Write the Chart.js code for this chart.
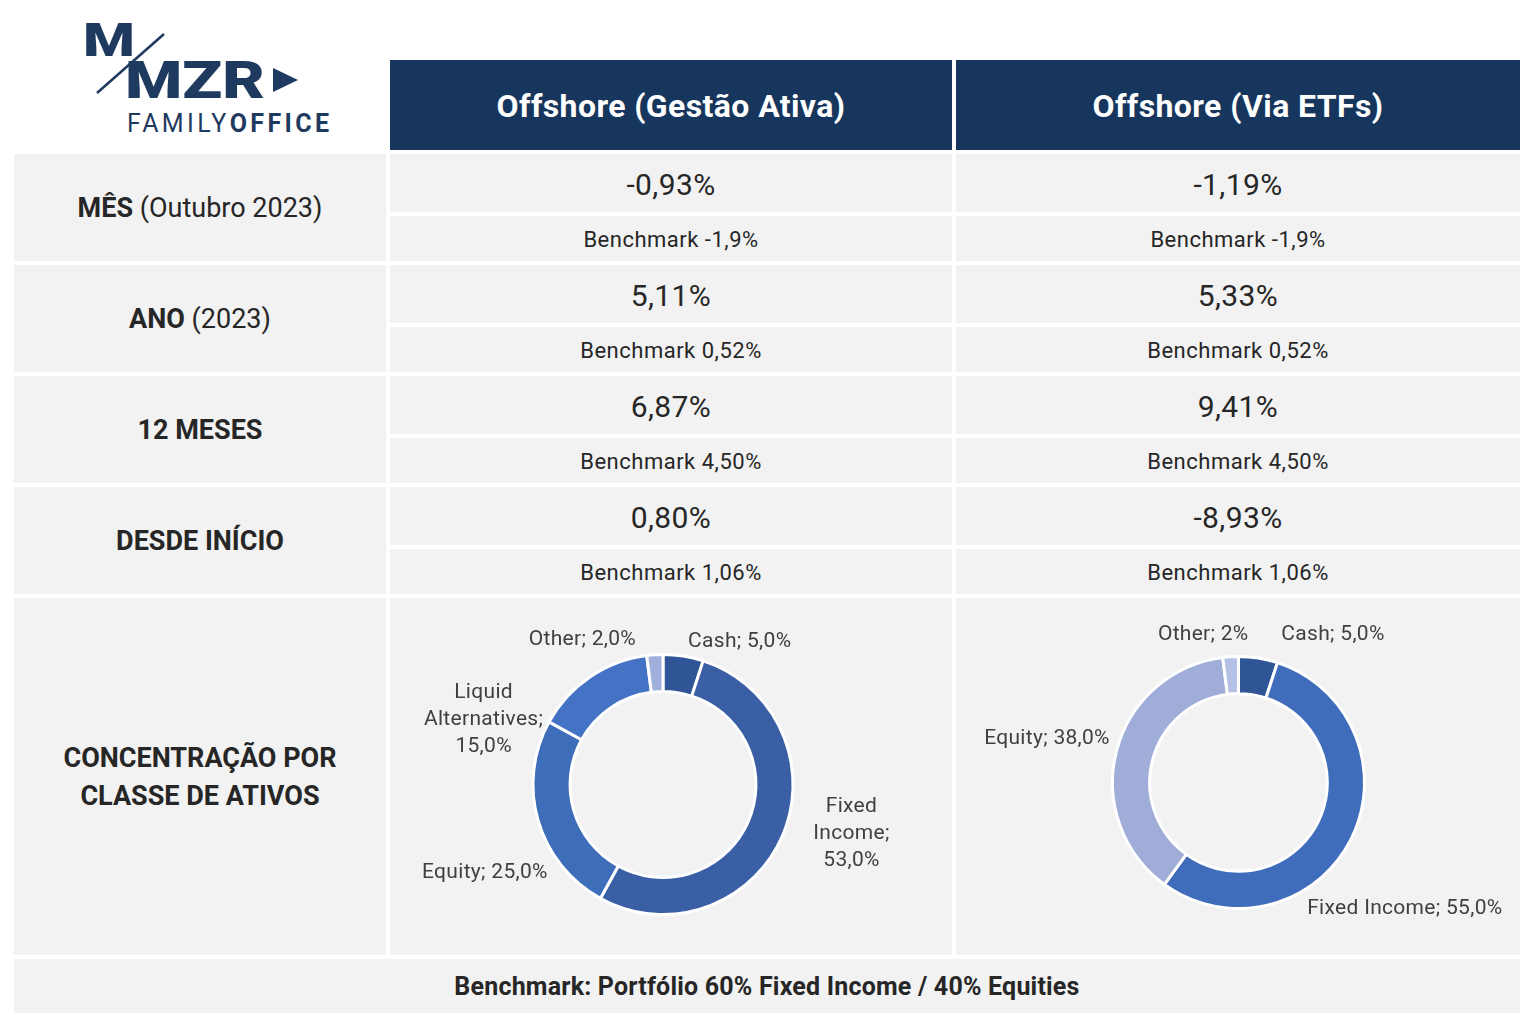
<!DOCTYPE html>
<html>
<head>
<meta charset="utf-8">
<script src="https://cdn.jsdelivr.net/npm/chart.js@4.4.0/dist/chart.umd.min.js"></script>
<style>
  body { margin: 0; background: #fff; font-family: Roboto, 'Noto Sans', sans-serif; color: #262626; }
  #page { position: relative; width: 1532px; height: 1036px; overflow: hidden; }
  .cell { position: absolute; background: #f2f2f2; display: flex; align-items: center; justify-content: center; text-align: center; }
  .head { background: #17365d; color: #fff; font-weight: 700; font-size: 32px; letter-spacing: 0.4px; padding-top: 2px; box-sizing: border-box; }
  .label { font-size: 27px; line-height: 38px; }
  .label b { font-weight: 700; }
  .value { font-size: 30px; letter-spacing: 0.4px; padding-top: 3px; box-sizing: border-box; }
  .bench { font-size: 22px; letter-spacing: 0.5px; padding-top: 2px; box-sizing: border-box; }
  .footer { font-size: 25px; font-weight: 700; letter-spacing: 0.2px; }
  canvas { position: absolute; }
</style>
</head>
<body>
<div id="page">
  <svg id="logo" width="360" height="150" style="position:absolute;left:0;top:0">
    <text x="83" y="56" font-family="Roboto" font-weight="900" font-size="46" fill="#1f3a5f" textLength="52" lengthAdjust="spacingAndGlyphs">M</text>
    <line x1="97" y1="93" x2="164" y2="34" stroke="#1f3a5f" stroke-width="2.5"/>
    <text x="125" y="98" font-family="Roboto" font-weight="900" font-size="52" fill="#1f3a5f" textLength="140" lengthAdjust="spacingAndGlyphs">MZR</text>
    <path d="M273 68 L298 80 L273 92 Z" fill="#1f3a5f"/>
    <text x="127" y="132" font-family="Roboto" font-size="25" fill="#1f3a5f" letter-spacing="3.4">FAMILY<tspan font-weight="700">OFFICE</tspan></text>
  </svg>
</div>
<script>
// table content
const columns = ['Offshore (Gestão Ativa)', 'Offshore (Via ETFs)'];
const periodBold = ['MÊS', 'ANO', '12 MESES', 'DESDE INÍCIO'];
const periodNote = ['(Outubro 2023)', '(2023)', '', ''];
const returnsAtiva = ['-0,93%', '5,11%', '6,87%', '0,80%'];
const returnsEtf = ['-1,19%', '5,33%', '9,41%', '-8,93%'];
const benchAtiva = ['-1,9%', '0,52%', '4,50%', '1,06%'];
const benchEtf = ['-1,9%', '0,52%', '4,50%', '1,06%'];
const concentrationLabel = 'CONCENTRAÇÃO POR<br>CLASSE DE ATIVOS';
const footerText = 'Benchmark: Portfólio 60% Fixed Income / 40% Equities';

// doughnut content
const classesAtiva = ['Cash', 'Fixed Income', 'Equity', 'Liquid Alternatives', 'Other'];
const weightsAtiva = [5, 53, 25, 15, 2];
const labelsAtiva = ['Cash; 5,0%', 'Fixed\nIncome;\n53,0%', 'Equity; 25,0%', 'Liquid\nAlternatives;\n15,0%', 'Other; 2,0%'];
const classesEtf = ['Cash', 'Fixed Income', 'Equity', 'Other'];
const weightsEtf = [5, 55, 38, 2];
const labelsEtf = ['Cash; 5,0%', 'Fixed Income; 55,0%', 'Equity; 38,0%', 'Other; 2%'];

const page = document.getElementById('page');
const colX = [[14, 372], [390, 562], [956, 564]];
const top0 = 154, step = 111, subH = [58, 45], gap = 4;

function addCell(x, y, w, h, cls, html) {
    const d = document.createElement('div');
    d.className = 'cell ' + cls;
    Object.assign(d.style, { left: x + 'px', top: y + 'px', width: w + 'px', height: h + 'px' });
    d.innerHTML = html;
    page.appendChild(d);
    return d;
}

columns.forEach((c, i) => addCell(colX[i + 1][0], 60, colX[i + 1][1], 90, 'head', c));

periodBold.forEach((p, i) => {
    const y = top0 + i * step;
    const note = periodNote[i] ? ' ' + periodNote[i] : '';
    addCell(colX[0][0], y, colX[0][1], subH[0] + gap + subH[1], 'label', `<span><b>${p}</b>${note}</span>`);
    [[returnsAtiva, benchAtiva], [returnsEtf, benchEtf]].forEach(([ret, bench], j) => {
        const [x, w] = colX[j + 1];
        addCell(x, y, w, subH[0], 'value', ret[i]);
        addCell(x, y + subH[0] + gap, w, subH[1], 'bench', 'Benchmark ' + bench[i]);
    });
});

const concTop = top0 + periodBold.length * step;
const concH = 357;
addCell(colX[0][0], concTop, colX[0][1], concH, 'label', `<b>${concentrationLabel}</b>`);
const cellA = addCell(colX[1][0], concTop, colX[1][1], concH, '', '');
const cellB = addCell(colX[2][0], concTop, colX[2][1], concH, '', '');
addCell(14, concTop + concH + gap, 1506, 54, 'footer', footerText);

// label anchors, relative to doughnut centre in units of outer radius
const anchorsAtiva = [[0.59, -1.10], [1.45, 0.38], [-1.37, 0.68], [-1.38, -0.50], [-0.62, -1.11]];
const anchorsEtf = [[0.75, -1.17], [1.32, 1.0], [-1.52, -0.35], [-0.28, -1.17]];

const sliceLabels = {
    id: 'sliceLabels',
    afterDatasetsDraw(chart, args, opts) {
        const ctx = chart.ctx;
        const arcs = chart.getDatasetMeta(0).data;
        ctx.save();
        ctx.font = '21px Roboto';
        ctx.letterSpacing = '0.3px';
        ctx.fillStyle = '#404040';
        ctx.textAlign = 'center';
        ctx.textBaseline = 'middle';
        arcs.forEach((arc, i) => {
            const lines = opts.texts[i].split('\n');
            const cx = arc.x + opts.anchors[i][0] * arc.outerRadius;
            const cy = arc.y + opts.anchors[i][1] * arc.outerRadius;
            lines.forEach((ln, k) => {
                ctx.fillText(ln, cx, cy + (k - (lines.length - 1) / 2) * 27);
            });
        });
        ctx.restore();
    }
};

function makeDoughnut(cell, classes, weights, colors, texts, anchors, pad, cutout) {
    const cv = document.createElement('canvas');
    cell.style.display = 'block';
    cv.style.left = '0px';
    cv.style.top = '0px';
    cv.style.width = cell.style.width;
    cv.style.height = cell.style.height;
    cell.appendChild(cv);
    return new Chart(cv, {
        type: 'doughnut',
        data: {
            labels: classes,
            datasets: [{
                data: weights,
                backgroundColor: colors,
                borderColor: '#ffffff',
                borderWidth: 3
            }]
        },
        options: {
            responsive: false,
            animation: false,
            cutout: cutout,
            layout: { padding: pad },
            plugins: {
                legend: { display: false },
                tooltip: { enabled: false },
                sliceLabels: { texts: texts, anchors: anchors }
            }
        },
        plugins: [sliceLabels]
    });
}

makeDoughnut(cellA, classesAtiva, weightsAtiva,
    ['#2f5597', '#3a5fa5', '#3e6dba', '#4472c4', '#a0afdb'],
    labelsAtiva, anchorsAtiva,
    { left: 141, right: 157, top: 55, bottom: 39 }, '71.5%');

makeDoughnut(cellB, classesEtf, weightsEtf,
    ['#2f5597', '#3f6cbb', '#9fadd8', '#b4c1e4'],
    labelsEtf, anchorsEtf,
    { left: 155, right: 154, top: 57, bottom: 45 }, '70.5%');
</script>
</body>
</html>
